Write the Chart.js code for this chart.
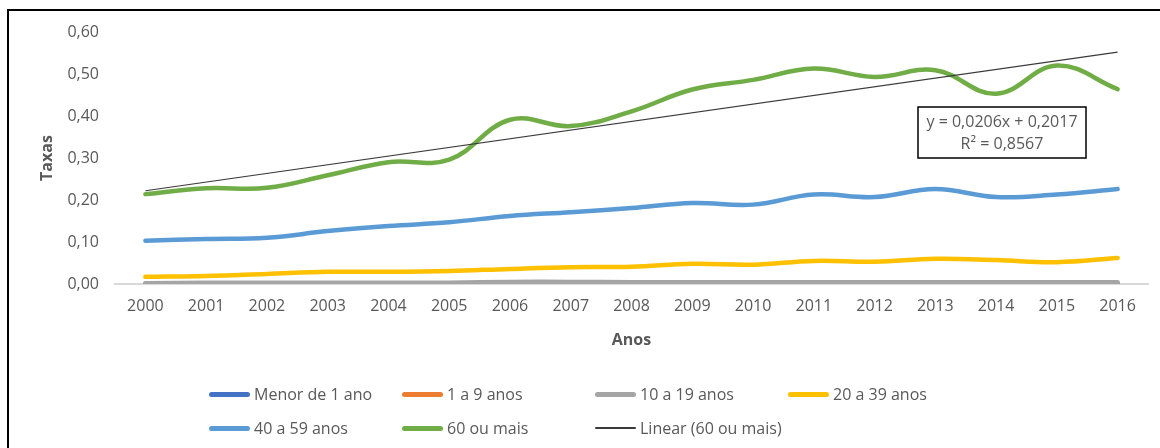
<!DOCTYPE html>
<html>
<head>
<meta charset="utf-8">
<script src="https://cdn.jsdelivr.net/npm/chart.js@4"></script>
<style>
  body { margin: 0; background: #fff; font-family: 'Open Sans', sans-serif; }
  #wrap { position: relative; width: 1160px; height: 448px; overflow: hidden; }
  #frame { position: absolute; left: 7px; top: 9px; width: 1200px; height: 500px;
           border-left: 2px solid #000; border-top: 2px solid #000; }
  #chart { position: absolute; left: 0; top: 0; }
  .lg { position: absolute; height: 20px; display: flex; align-items: center;
        font-size: 16px; color: #595959; white-space: nowrap; }
  .lg span.sym { display: inline-block; width: 41px; margin-right: 4px; border-radius: 3px; }
</style>
</head>
<body>
<div id="wrap">
  <div id="frame"></div>
  <canvas id="chart" width="1160" height="448"></canvas>
  <div id="legend"></div>
</div>
<script>
// Data
const years = ['2000', '2001', '2002', '2003', '2004', '2005', '2006', '2007', '2008',
               '2009', '2010', '2011', '2012', '2013', '2014', '2015', '2016'];

const menor1 = [0.000, 0.000, 0.000, 0.000, 0.000, 0.000, 0.000, 0.000, 0.000,
                0.000, 0.000, 0.000, 0.000, 0.000, 0.000, 0.000, 0.000];
const de1a9 = [0.000, 0.000, 0.000, 0.000, 0.000, 0.000, 0.001, 0.001, 0.001,
               0.001, 0.001, 0.001, 0.001, 0.001, 0.001, 0.001, 0.001];
const de10a19 = [0.002, 0.003, 0.003, 0.003, 0.003, 0.003, 0.005, 0.005, 0.004,
                 0.004, 0.004, 0.004, 0.004, 0.004, 0.004, 0.004, 0.004];
const de20a39 = [0.017, 0.019, 0.024, 0.029, 0.029, 0.031, 0.036, 0.040, 0.041,
                 0.048, 0.046, 0.055, 0.053, 0.060, 0.057, 0.052, 0.062];
const de40a59 = [0.103, 0.107, 0.110, 0.126, 0.138, 0.147, 0.162, 0.171, 0.181,
                 0.193, 0.189, 0.213, 0.207, 0.226, 0.207, 0.213, 0.226];
const mais60 = [0.214, 0.228, 0.229, 0.259, 0.290, 0.296, 0.391, 0.376, 0.411,
                0.463, 0.486, 0.513, 0.493, 0.509, 0.453, 0.520, 0.464];
// trend line for "60 ou mais": only its two end values
const linear60 = [0.222, null, null, null, null, null, null, null, null,
                  null, null, null, null, null, null, null, 0.552];

const yTicks = [0, 0.1, 0.2, 0.3, 0.4, 0.5, 0.6];
const equationLines = ['y = 0,0206x + 0,2017', 'R² = 0,8567'];

const textColor = '#595959';
const fontFamily = "'Open Sans', sans-serif";

function series(label, data, color, order) {
    return {
        label: label,
        data: data,
        borderColor: color,
        backgroundColor: color,
        borderWidth: 4.5,
        pointRadius: 0,
        tension: 0.4,
        borderCapStyle: 'round',
        order: order
    };
}

// Equation box of the trend line
const equationBox = {
    id: 'equationBox',
    afterDatasetsDraw(chart) {
        const ctx = chart.ctx;
        const x = 918, y = 107, w = 168, h = 51;
        ctx.save();
        ctx.fillStyle = '#fff';
        ctx.fillRect(x, y, w, h);
        ctx.strokeStyle = '#000';
        ctx.lineWidth = 1.5;
        ctx.strokeRect(x, y, w, h);
        ctx.fillStyle = textColor;
        ctx.font = '16px ' + fontFamily;
        ctx.textAlign = 'center';
        ctx.textBaseline = 'middle';
        ctx.fillText(equationLines[0], x + w / 2, y + 15);
        ctx.fillText(equationLines[1], x + w / 2, y + 37);
        ctx.restore();
    }
};

const ctx = document.getElementById('chart').getContext('2d');
const chart = new Chart(ctx, {
    type: 'line',
    data: {
        labels: years,
        datasets: [
            series('Menor de 1 ano', menor1, '#4472C4', 7),
            series('1 a 9 anos', de1a9, '#ED7D31', 6),
            series('10 a 19 anos', de10a19, '#A5A5A5', 5),
            series('20 a 39 anos', de20a39, '#FFC000', 4),
            series('40 a 59 anos', de40a59, '#5B9BD5', 3),
            series('60 ou mais', mais60, '#70AD47', 2),
            {
                label: 'Linear (60 ou mais)',
                data: linear60,
                borderColor: '#3a3a3a',
                backgroundColor: '#3a3a3a',
                borderWidth: 1.2,
                pointRadius: 0,
                spanGaps: true,
                tension: 0,
                order: 1
            }
        ]
    },
    options: {
        responsive: false,
        animation: false,
        devicePixelRatio: 1,
        layout: { padding: { top: 32, right: 12, left: 0, bottom: 0 } },
        plugins: {
            legend: { display: false },
            tooltip: { enabled: false }
        },
        scales: {
            x: {
                offset: true,
                grid: { display: false, drawTicks: false },
                border: { display: true, color: '#d9d9d9', width: 2 },
                ticks: { color: textColor, font: { family: fontFamily, size: 16 }, padding: 13,
                         maxRotation: 0, autoSkip: false },
                title: { display: true, text: 'Anos', color: textColor,
                         font: { family: fontFamily, size: 16, weight: 'bold' },
                         padding: { top: 0, bottom: 98 } },
                afterFit(scale) { scale.height = 164; }
            },
            y: {
                min: 0,
                max: 0.6,
                grid: { display: false, drawTicks: false },
                border: { display: false },
                afterBuildTicks(scale) { scale.ticks = yTicks.map(v => ({ value: v })); },
                ticks: {
                    color: textColor,
                    font: { family: fontFamily, size: 16 },
                    padding: 16,
                    callback: v => v.toFixed(2).replace('.', ',')
                },
                title: { display: true, text: 'Taxas', color: textColor,
                         font: { family: fontFamily, size: 16, weight: 'bold' },
                         padding: { top: 38, bottom: 0 } },
                afterFit(scale) { scale.width = 115; }
            }
        }
    },
    plugins: [equationBox]
});

// Legend laid out as a 4-column grid, like the original
const legendEl = document.getElementById('legend');
chart.data.datasets.forEach((ds, i) => {
    const item = document.createElement('div');
    item.className = 'lg';
    item.style.left = (209 + (i % 4) * 193) + 'px';
    item.style.top = (i < 4 ? 384 : 418) + 'px';
    const sym = document.createElement('span');
    sym.className = 'sym';
    const thick = ds.borderWidth > 2 ? 5 : 1.5;
    sym.style.height = thick + 'px';
    sym.style.background = ds.borderColor;
    item.appendChild(sym);
    item.appendChild(document.createTextNode(ds.label));
    legendEl.appendChild(item);
});
</script>
</body>
</html>
